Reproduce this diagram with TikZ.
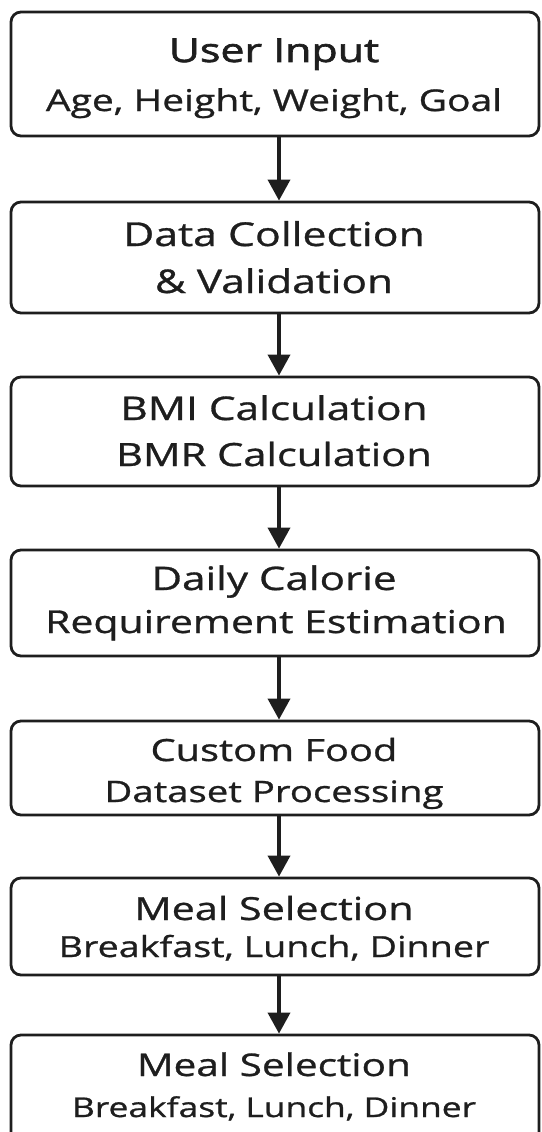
\documentclass[tikz,border=0pt]{standalone}
\usepackage{fontspec}
\setmainfont{Open Sans}[FakeStretch=1.3, FakeBold=0.9]
\newfontfamily\headfont{Open Sans}[FakeStretch=1.3, FakeBold=2]
\usetikzlibrary{arrows.meta}
\definecolor{ink}{HTML}{1E1E1E}
\newcommand{\fsz}[1]{\fontsize{#1}{#1}\selectfont}
\begin{document}
\begin{tikzpicture}[x=1pt,y=-1pt,
  stage/.style={draw=ink, line width=2.8pt, rounded corners=10pt,
    minimum width=528pt, inner sep=0pt, fill=white},
  label/.style={anchor=base, text=ink, inner sep=0pt},
  flow/.style={draw=ink, line width=3.6pt,
    -{Triangle[width=22pt,length=21pt]}}]
\useasboundingbox (0,0) rectangle (541,1132);
\clip (0,0) rectangle (541,1132);

% stage boxes
\node[stage, minimum height=124pt] (s1) at (275,74) {};
\node[stage, minimum height=111pt] (s2) at (275,257.5) {};
\node[stage, minimum height=109pt] (s3) at (275,431.5) {};
\node[stage, minimum height=106pt] (s4) at (275,603) {};
\node[stage, minimum height=94pt]  (s5) at (275,768) {};
\node[stage, minimum height=97pt]  (s6) at (275,926.5) {};
\node[stage, minimum height=115pt] (s7) at (275,1092.5) {};

% box texts
\node[label, font=\headfont\fsz{33}] (s1a) at (274,62) {User Input};
\node[label, font=\fsz{30}]   (s1b) at (274,111)  {Age, Height, Weight, Goal};
\node[label, font=\fsz{32.9}] (s2a) at (274,246)  {Data Collection};
\node[label, font=\fsz{32.6}] (s2b) at (274,293)  {\& Validation};
\node[label, font=\fsz{32.6}] (s3a) at (274,420)  {BMI Calculation};
\node[label, font=\fsz{32}]   (s3b) at (274,466)  {BMR Calculation};
\node[label, font=\fsz{32.4}] (s4a) at (274,590)  {Daily Calorie};
\node[label, font=\fsz{31.5}] (s4b) at (276,633)  {Requirement Estimation};
\node[label, font=\fsz{30.6}] (s5a) at (274,761)  {Custom Food};
\node[label, font=\fsz{29.5}] (s5b) at (274,802)  {Dataset Processing};
\node[label, font=\fsz{31.8}] (s6a) at (274,920)  {Meal Selection};
\node[label, font=\fsz{29}]   (s6b) at (274,957)  {Breakfast, Lunch, Dinner};
\node[label, font=\fsz{31.2}] (s7a) at (274,1076) {Meal Selection};
\node[label, font=\fsz{27.2}] (s7b) at (274,1117) {Breakfast, Lunch, Dinner};

% connectors
\foreach \a/\b in {s1/s2, s2/s3, s3/s4, s4/s5, s5/s6, s6/s7}
  \draw[flow] ([xshift=4pt]\a.south) -- ([xshift=4pt]\b.north);
\end{tikzpicture}
\end{document}
